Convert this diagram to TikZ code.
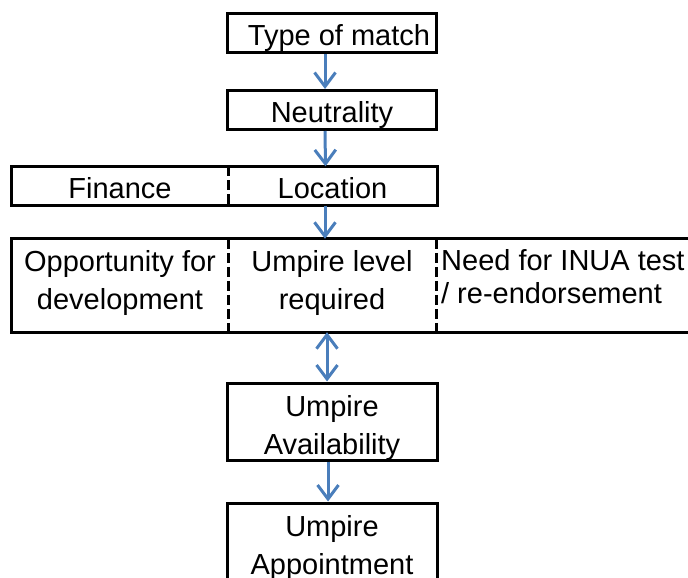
\documentclass[tikz,border=0pt]{standalone}
\usepackage{fontspec}
\setmainfont{Liberation Sans}
\usetikzlibrary{arrows.meta}
\definecolor{arrowblue}{RGB}{74,126,187}
\begin{document}
\begin{tikzpicture}[x=1pt,y=-1pt,
  txt/.style={inner sep=0pt, align=center, font=\fontsize{29}{38}\selectfont, text height=25pt, text depth=0pt},
  box/.style={txt, draw=black, line width=3pt},
  cell/.style={txt},
  divider/.style={draw=black, line width=3pt, dash pattern=on 10pt off 4pt},
  outer/.style={draw=black, line width=3pt},
  conn/.style={draw=arrowblue, line width=3pt, -{Straight Barb[length=14pt,width=21pt]}},
  conntwo/.style={draw=arrowblue, line width=3pt, {Straight Barb[length=14pt,width=21pt]}-{Straight Barb[length=14pt,width=21pt]}}]
\clip (0,0) rectangle (688,578);
% row 1 and 2
\node[box, minimum width=209pt, minimum height=39pt] (t1) at (332,33.5) {\hspace*{14pt}Type of match};
\node[box, minimum width=209pt, minimum height=39pt] (t2) at (332,110) {Neutrality};
% row 3
\node[cell, minimum width=216pt, minimum height=39pt] (f) at (120,186) {Finance};
\node[cell, minimum width=209pt, minimum height=39pt] (l) at (332.5,186) {Location};
\draw[outer] (f.north west) rectangle (l.south east);
\draw[divider] (f.north east) -- (f.south east);
% row 4
\node[cell, text height=, text depth=11pt, minimum width=216pt, minimum height=93pt] (c1) at (120,285.5) {Opportunity for\\development};
\node[cell, text height=, text depth=11pt, minimum width=208pt, minimum height=93pt] (c2) at (332,285.5) {Umpire level\\required};
\node[cell, text height=, anchor=west, inner xsep=5pt, align=left, text depth=0pt, font=\fontsize{29}{33}\selectfont] (c3) at (436,276) {Need for INUA test\\/\hspace{8pt}re-endorsement};
\draw[outer] (c1.north west) rectangle ([xshift=20pt]c2.south east -| c3.east);
\draw[divider] (c1.north east) -- (c1.south east);
\draw[divider] (c2.north east) -- (c2.south east);
% rows 5 and 6
\node[box, text height=65pt, font=\fontsize{29}{37.5}\selectfont, minimum width=210pt, minimum height=77pt] (av) at (332,421.5) {Umpire\\Availability};
\node[box, text height=65pt, font=\fontsize{29}{37.5}\selectfont, minimum width=210pt, minimum height=77pt] (ap) at (332,541.5) {Umpire\\Appointment};
% connectors
\draw[conn] ([xshift=-7pt]t1.south) -- ([xshift=-7pt]t2.north);
\draw[conn] ([xshift=-7pt]t2.south) -- ([xshift=-7pt]l.north);
\draw[conn] ([xshift=-7.5pt]l.south) -- ([xshift=-7pt]c2.north);
\draw[conntwo] ([xshift=-5pt]c2.south) -- ([xshift=-5pt]av.north);
\draw[conn] ([xshift=-4pt]av.south) -- ([xshift=-4pt]ap.north);
\end{tikzpicture}
\end{document}
